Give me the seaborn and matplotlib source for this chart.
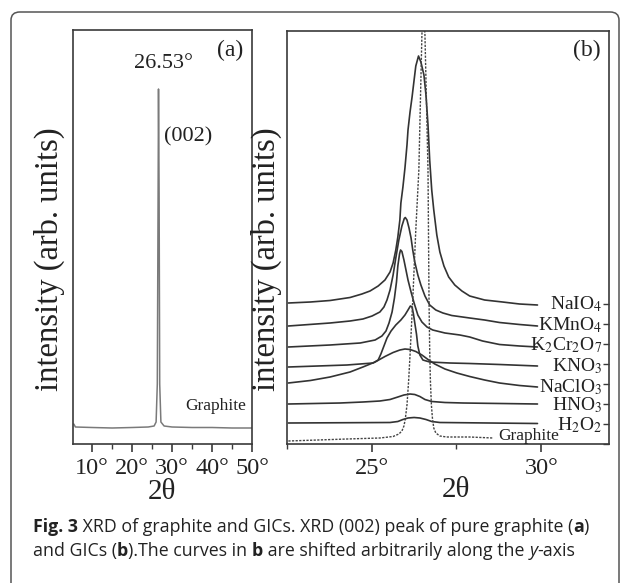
import numpy as np
import pandas as pd
import matplotlib
matplotlib.use("Agg")
import matplotlib.pyplot as plt
import seaborn as sns
from matplotlib.patches import FancyBboxPatch
from matplotlib.ticker import MultipleLocator, FuncFormatter

# ---------------- data ----------------
# panel (a): pure graphite, full scan
a_two_theta = [5.4, 5.8, 10.0, 15.0, 20.0, 24.0, 25.5, 26.0, 26.3, 26.5, 26.6,
               26.75, 26.9, 27.2, 28.0, 30.0, 35.0, 40.0, 45.0, 50.0]
a_intensity = [20, 17, 16.5, 16, 16.5, 17, 18, 22, 60, 250, 355,
               250, 60, 22, 18, 17, 16.5, 16.5, 16, 16]

# panel (b): (002) region, curves shifted along y
naio4_x = [22.54, 23.19, 23.77, 24.36, 24.71, 24.95, 25.19, 25.39, 25.54, 25.63, 25.71, 25.77,
           25.83, 25.86, 25.92, 25.98, 26.04, 26.07, 26.13, 26.19, 26.25, 26.30, 26.38,
           26.45, 26.54, 26.60, 26.66, 26.71, 26.77, 26.83, 26.92, 27.01, 27.13, 27.27, 27.45,
           27.66, 27.89, 28.33, 28.86, 29.36, 29.89]
naio4_y = [141, 142, 143.5, 146.5, 150, 153, 158, 164, 172, 181, 194, 207,
           224, 241, 257, 276, 299, 314, 332, 347, 364, 378, 388,
           382, 369, 349, 319, 284, 254, 234, 209, 192, 178, 167, 159,
           153, 148, 144, 142, 140, 139]

kmno4_x = [22.54, 23.77, 24.36, 24.74, 25.01, 25.24, 25.36, 25.45, 25.54, 25.63, 25.71, 25.80,
           25.89, 25.96, 25.99, 26.04, 26.10, 26.16, 26.21, 26.27, 26.36, 26.45, 26.57, 26.71,
           26.89, 27.10, 27.36, 27.89, 28.33, 28.77, 29.36, 29.89]
kmno4_y = [118, 121, 123, 125, 128, 132, 137, 144, 154, 169, 186, 204,
           218, 225.5, 226.5, 224, 216, 206, 194, 182, 169, 159, 148, 139,
           134, 131, 128.5, 126, 124, 121.5, 119.5, 118]

k2cr2o7_x = [22.54, 23.77, 24.66, 25.10, 25.30, 25.42, 25.51, 25.60, 25.67, 25.73, 25.77, 25.82,
             25.85, 25.89, 25.95, 26.01, 26.07, 26.16, 26.25, 26.36, 26.48, 26.63, 26.80, 27.16,
             27.60, 27.89, 28.27, 28.77, 29.36, 29.89]
k2cr2o7_y = [97, 99, 101, 104, 108, 113, 121, 132, 146, 162, 178, 190,
             194, 192.5, 184, 174, 164, 152, 141, 129, 122, 117, 114, 111,
             109, 107, 103, 99.5, 98, 97]

kno3_x = [22.54, 24.27, 25.04, 25.19, 25.27, 25.36, 25.45, 25.57, 25.71, 25.86, 25.98, 26.07,
          26.14, 26.19, 26.23, 26.27, 26.32, 26.36, 26.42, 26.51, 26.71, 27.30, 27.89, 28.77,
          29.89]
kno3_y = [77, 79, 81, 84, 90, 98, 106, 113, 119, 124, 129, 134,
          138, 137, 130, 121, 110, 98, 89, 84, 82, 81, 80.5, 79.5,
          78]

naclo3_x = [22.54, 23.19, 23.77, 24.36, 24.74, 25.10, 25.39, 25.63, 25.83, 25.98, 26.13, 26.30,
            26.48, 26.66, 26.86, 27.16, 27.51, 27.89, 28.33, 28.77, 29.36, 29.89]
naclo3_y = [61, 63.5, 67, 72, 77, 82, 87.5, 91.5, 94, 95, 94.5, 92.5,
            89, 84.5, 80, 75, 71, 67.5, 64, 61, 58.5, 57]

hno3_x = [22.54, 24.07, 24.74, 25.24, 25.54, 25.77, 25.95, 26.13, 26.27, 26.42, 26.57, 26.77,
          27.16, 27.69, 29.89]
hno3_y = [40, 41, 42, 43, 44.5, 47, 49, 50, 49.5, 47.5, 44.5, 42.5,
          41.5, 41, 40]

h2o2_x = [22.54, 25.54, 25.77, 25.92, 26.07, 26.25, 26.42, 26.60, 26.77, 27.01, 29.89]
h2o2_y = [21, 21.5, 22.5, 24.5, 26, 26.5, 26, 24.5, 22.5, 21.5, 20.5]

graphite_x = [22.54, 24.27, 25.24, 25.63, 25.80, 25.89, 25.95, 25.99, 26.04, 26.09, 26.13, 26.21,
              26.30, 26.39, 26.48, 26.52, 26.57, 26.66, 26.69, 26.71, 26.73, 26.76, 26.79, 26.83,
              26.89, 27.01, 27.21, 27.89, 28.57]
graphite_y = [3, 5, 6, 7.5, 10, 13, 18, 25, 39, 64, 89, 144,
              214, 274, 409, 444, 409, 274, 144, 94, 64, 39, 26, 16,
              11, 8, 7, 7, 6]

series_labels = [r"NaIO$_4$", r"KMnO$_4$", r"K$_2$Cr$_2$O$_7$", r"KNO$_3$",
                 r"NaClO$_3$", r"HNO$_3$", r"H$_2$O$_2$", "Graphite"]
label_y = [140, 119, 99, 78, 57, 39, 19, 8]

a_xticks = [10, 20, 30, 40, 50]
b_xticks = [25, 30]

# ---------------- style ----------------
sns.set_theme(style="ticks")
plt.rcParams["font.family"] = ["Liberation Serif", "DejaVu Serif"]
plt.rcParams["mathtext.fontset"] = "stix"

W, H = 629, 583
fig = plt.figure(figsize=(W / 100, H / 100), dpi=100)
fig.patch.set_facecolor("white")

def fx(px):
    return px / W

def fy(py):
    return 1 - py / H

ax_a = fig.add_axes([fx(73), fy(444), fx(252) - fx(73), fy(30) - fy(444)])
ax_b = fig.add_axes([fx(287), fy(444), fx(609) - fx(287), fy(31) - fy(444)])

spine_col = "#3a3a3a"
line_col = "#333333"
txt_col = "#222222"
deg = FuncFormatter(lambda v, p: f"{v:.0f}\u00b0")

# panel (a)
sns.lineplot(x=a_two_theta, y=a_intensity, ax=ax_a, color="#7a7a7a", lw=1.1,
             estimator=None, sort=False)
ax_a.set_xlim(5.2, 50)
ax_a.set_ylim(0, 414)
ax_a.set_xticks(a_xticks)
ax_a.xaxis.set_minor_locator(MultipleLocator(5))
ax_a.xaxis.set_major_formatter(deg)
ax_a.set_yticks([])
ax_a.text(27.8, 381, "26.53\u00b0", ha="center", va="center", fontsize=16, color=txt_col)
ax_a.text(34.1, 307, "(002)", ha="center", va="center", fontsize=16, color=txt_col)
ax_a.text(44.6, 394, "(a)", ha="center", va="center", fontsize=17, color=txt_col)
ax_a.text(40.8, 38, "Graphite", ha="center", va="center", fontsize=12.5, color=txt_col)

# panel (b)
curves = [(naio4_x, naio4_y), (kmno4_x, kmno4_y), (k2cr2o7_x, k2cr2o7_y), (kno3_x, kno3_y),
          (naclo3_x, naclo3_y), (hno3_x, hno3_y), (h2o2_x, h2o2_y)]
for xs, ys in curves:
    sns.lineplot(x=xs, y=ys, ax=ax_b, color=line_col, lw=1.2, estimator=None, sort=False)
sns.lineplot(x=graphite_x, y=graphite_y, ax=ax_b, color="#444444", lw=1.0,
             estimator=None, sort=False, linestyle=(0, (1.6, 1.0)))
ax_b.set_xlim(22.5, 32)
ax_b.set_ylim(0, 413)
ax_b.set_xticks(b_xticks)
ax_b.xaxis.set_minor_locator(MultipleLocator(2.5))
ax_b.xaxis.set_major_formatter(deg)
ax_b.yaxis.tick_right()
ax_b.set_yticks(np.arange(0, 141, 20))
ax_b.tick_params(axis="y", which="both", direction="in", length=4, width=1.0,
                 labelright=False, labelleft=False, color=spine_col)
for lab, yv in zip(series_labels[:-1], label_y[:-1]):
    ax_b.text(31.8, yv, lab, ha="right", va="center", fontsize=14, color=txt_col)
ax_b.text(29.62, label_y[-1], series_labels[-1], ha="center", va="center",
          fontsize=12.5, color=txt_col)
ax_b.text(31.36, 394, "(b)", ha="center", va="center", fontsize=17, color=txt_col)

for ax in (ax_a, ax_b):
    for s in ax.spines.values():
        s.set_color(spine_col)
        s.set_linewidth(1.2)
    ax.set_xlabel("")
    ax.set_ylabel("")
    ax.tick_params(axis="x", which="major", direction="out", length=6, width=1.2,
                   labelsize=17.5, pad=4, color=spine_col, labelcolor=txt_col)
    ax.tick_params(axis="x", which="minor", direction="out", length=3.5, width=1.0,
                   color=spine_col)

# axis titles
for xc in (49, 266):
    fig.text(fx(xc), fy(259), "intensity (arb. units)", rotation=90, ha="center",
             va="center", fontsize=23.5, color=txt_col)
fig.text(fx(162), fy(492), "2\u03b8", ha="center", va="center", fontsize=21, color=txt_col)
fig.text(fx(456), fy(490), "2\u03b8", ha="center", va="center", fontsize=21, color=txt_col)

# outer rounded frame
frame = FancyBboxPatch((fx(11), -0.05), fx(619) - fx(11), fy(12) + 0.05,
                       boxstyle="round,pad=0,rounding_size=0.014",
                       transform=fig.transFigure, fc="none", ec="#555555", lw=1.1)
fig.patches.append(frame)

# caption, composed of styled runs
cap_font = ["Open Sans", "DejaVu Sans"]
cap_size = 12.8
lines = [
    [("Fig. 3", "bold", "normal"), (" XRD of graphite and GICs. XRD (002) peak of pure graphite (", "normal", "normal"),
     ("a", "bold", "normal"), (")", "normal", "normal")],
    [("and GICs (", "normal", "normal"), ("b", "bold", "normal"), (").The curves in ", "normal", "normal"),
     ("b", "bold", "normal"), (" are shifted arbitrarily along the ", "normal", "normal"),
     ("y", "normal", "italic"), ("-axis", "normal", "normal")],
]
line_y = [527, 551]
renderer = fig.canvas.get_renderer()
for runs, yl in zip(lines, line_y):
    xpos = 33
    for txt, wt, st in runs:
        t = fig.text(fx(xpos), fy(yl), txt, ha="left", va="center", fontsize=cap_size,
                     family=cap_font, fontweight=wt, fontstyle=st, color=txt_col)
        bb = t.get_window_extent(renderer=renderer)
        xpos += bb.width

fig.savefig("out.png", dpi=100)
